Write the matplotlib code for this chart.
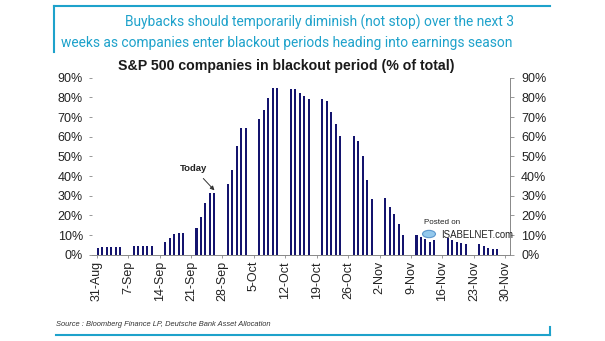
import matplotlib
matplotlib.use("Agg")
import matplotlib.pyplot as plt
import matplotlib.dates as mdates
import pandas as pd
from matplotlib.lines import Line2D
from matplotlib.patches import Circle

plt.rcParams['font.family'] = ['Liberation Sans', 'DejaVu Sans']

# ---- data ----
dates = [
    "2020-08-31", "2020-09-01", "2020-09-02", "2020-09-03", "2020-09-04", "2020-09-05",
    "2020-09-08", "2020-09-09", "2020-09-10", "2020-09-11", "2020-09-12",
    "2020-09-15", "2020-09-16", "2020-09-17", "2020-09-18", "2020-09-19",
    "2020-09-22", "2020-09-23", "2020-09-24", "2020-09-25", "2020-09-26",
    "2020-09-29", "2020-09-30", "2020-10-01", "2020-10-02", "2020-10-03",
    "2020-10-06", "2020-10-07", "2020-10-08", "2020-10-09", "2020-10-10",
    "2020-10-13", "2020-10-14", "2020-10-15", "2020-10-16", "2020-10-17",
    "2020-10-20", "2020-10-21", "2020-10-22", "2020-10-23", "2020-10-24",
    "2020-10-27", "2020-10-28", "2020-10-29", "2020-10-30", "2020-10-31",
    "2020-11-03", "2020-11-04", "2020-11-05", "2020-11-06", "2020-11-07",
    "2020-11-10", "2020-11-11", "2020-11-12", "2020-11-13", "2020-11-14",
    "2020-11-17", "2020-11-18", "2020-11-19", "2020-11-20", "2020-11-21",
    "2020-11-24", "2020-11-25", "2020-11-26", "2020-11-27", "2020-11-28",
]
blackout_pct = [
    3.3, 3.8, 3.8, 3.8, 3.8, 3.8,
    4.3, 4.3, 4.6, 4.6, 4.6,
    6.3, 8.3, 10.4, 11.2, 11.2,
    13.7, 19.3, 26.1, 31.2, 31.2,
    35.9, 43.1, 55.3, 64.4, 64.4,
    69.1, 73.6, 79.5, 84.7, 84.7,
    84.5, 84.0, 82.4, 80.7, 79.0,
    79.0, 78.0, 72.7, 66.6, 60.6,
    60.3, 58.0, 50.2, 38.0, 28.5,
    28.6, 24.3, 20.5, 15.6, 10.0,
    10.0, 9.0, 8.0, 6.5, 7.5,
    8.3, 7.3, 6.5, 6.0, 5.4,
    5.4, 4.6, 3.3, 3.1, 3.1,
]
today_date = "2020-09-26"
tick_dates = ["2020-08-31", "2020-09-07", "2020-09-14", "2020-09-21", "2020-09-28",
              "2020-10-05", "2020-10-12", "2020-10-19", "2020-10-26", "2020-11-02",
              "2020-11-09", "2020-11-16", "2020-11-23", "2020-11-30"]
tick_labels = ["31-Aug", "7-Sep", "14-Sep", "21-Sep", "28-Sep", "5-Oct", "12-Oct",
               "19-Oct", "26-Oct", "2-Nov", "9-Nov", "16-Nov", "23-Nov", "30-Nov"]
y_ticks = [0, 10, 20, 30, 40, 50, 60, 70, 80, 90]

title = "S&P 500 companies in blackout period (% of total)"
header1 = "Buybacks should temporarily diminish (not stop) over the next 3"
header2 = "weeks as companies enter blackout periods heading into earnings season"
source = "Source : Bloomberg Finance LP, Deutsche Bank Asset Allocation"

TEAL = "#1ea2cb"
BAR = "#14146e"

W, H = 605, 341
fig = plt.figure(figsize=(W / 100, H / 100), dpi=100)

def fx(px):
    return px / W

def fy(py):
    return 1 - py / H

ax = fig.add_axes([fx(92), fy(254.7), fx(510 - 92), (254.7 - 77.7) / H])
x = mdates.date2num(pd.to_datetime(dates))
ax.bar(x, blackout_pct, width=0.45, align='edge', color=BAR, linewidth=0)

t0 = mdates.date2num(pd.Timestamp(tick_dates[0]))
t1 = mdates.date2num(pd.Timestamp(tick_dates[-1]))
ax.set_xlim(t0 - 1.05, t1 + 1.05)
ax.set_ylim(0, 90)
ax.set_xticks(mdates.date2num(pd.to_datetime(tick_dates)))
ax.set_xticklabels(tick_labels, rotation=90, fontsize=9, color="#222222")
ax.set_yticks(y_ticks)
ax.set_yticklabels([f"{v}%" for v in y_ticks], fontsize=9, color="#222222")
ax.tick_params(axis='x', direction='out', length=2.5, width=0.6, color="#888888", pad=2)
ax.tick_params(axis='y', direction='out', length=2.5, width=0.6, color="#888888", pad=4)
for s in ['top', 'left', 'right']:
    ax.spines[s].set_visible(False)
ax.spines['bottom'].set_color("#888888")
ax.spines['bottom'].set_linewidth(0.7)

ax2 = ax.twinx()
ax2.set_ylim(0, 90)
ax2.set_yticks(y_ticks)
ax2.set_yticklabels([f"{v}%" for v in y_ticks], fontsize=9, color="#222222")
ax2.tick_params(axis='y', direction='out', length=3, width=0.6, color="#888888", pad=5)
for s in ['top', 'left', 'bottom']:
    ax2.spines[s].set_visible(False)
ax2.spines['right'].set_color("#888888")
ax2.spines['right'].set_linewidth(0.7)

# Today annotation
xt = mdates.date2num(pd.Timestamp(today_date)) + 0.225
yt = blackout_pct[dates.index(today_date)]
ax.annotate("Today", xy=(xt, yt + 1.5), xytext=(-15, 16), textcoords='offset points',
            ha='center', va='center', fontsize=6.8, fontweight='bold', color="#222222",
            arrowprops=dict(arrowstyle='-|>', color="#333333", lw=0.7, mutation_scale=6,
                            shrinkA=3, shrinkB=0))

# titles and texts
fig.text(fx(286), fy(66), title, ha='center', va='center', fontsize=10.2,
         fontweight='bold', color="#1a1a1a")
fig.text(fx(125), fy(22), header1, ha='left', va='center', fontsize=9.9,
         color=TEAL, family=['Roboto', 'DejaVu Sans'])
fig.text(fx(61), fy(42.5), header2, ha='left', va='center', fontsize=9.9,
         color=TEAL, family=['Roboto', 'DejaVu Sans'])
fig.text(fx(56), fy(324), source, ha='left', va='center', fontsize=5.4,
         style='italic', color="#333333")

# watermark
fig.text(fx(424), fy(222.7), "Posted on", ha='left', va='center', fontsize=5.8, color="#222222")
fig.text(fx(440.7), fy(235), "ISABELNET.com", ha='left', va='center', fontsize=6.9, color="#222222")
fig.patches.append(Circle((fx(429), fy(234)), 6.5 / W, transform=fig.transFigure,
                          facecolor="#6fb6e6", edgecolor="#3a7fc0", alpha=0.75, lw=0.8))

# frame lines
lw = 1.5
fig.add_artist(Line2D([fx(54), fx(550)], [fy(5.8), fy(5.8)], color=TEAL, lw=lw))
fig.add_artist(Line2D([fx(54), fx(54)], [fy(5.8), fy(52)], color=TEAL, lw=lw))
fig.add_artist(Line2D([fx(56), fx(550)], [fy(335), fy(335)], color=TEAL, lw=lw))
fig.add_artist(Line2D([fx(550), fx(550)], [fy(327), fy(335)], color=TEAL, lw=lw))

fig.savefig("out.png", dpi=100)
